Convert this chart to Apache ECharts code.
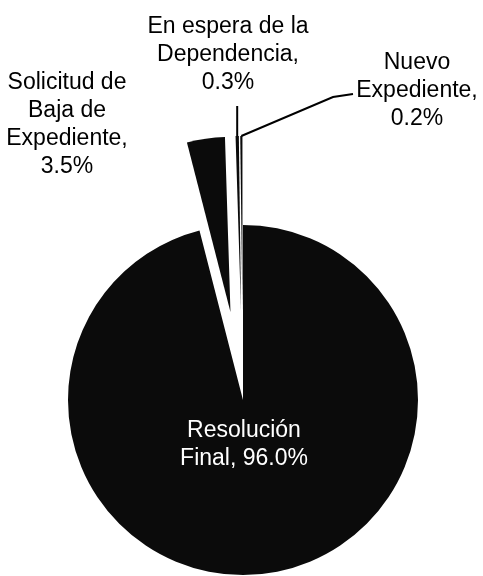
<!DOCTYPE html>
<html>
<head>
<meta charset="utf-8">
<script src="https://cdn.jsdelivr.net/npm/echarts@6/dist/echarts.min.js"></script>
<style>
  html, body { margin: 0; padding: 0; background: #fff; }
  #chart { width: 483px; height: 576px; }
</style>
</head>
<body>
<div id="chart"></div>
<script>
  // data (clockwise from 12 o'clock)
  const categories = ['Resolución Final', 'Solicitud de Baja de Expediente', 'En espera de la Dependencia', 'Nuevo Expediente']
  const shares = [96.0, 3.5, 0.3, 0.2]
  const labelNames = ['Resolución\nFinal,', 'Solicitud de\nBaja de\nExpediente,', 'En espera de la\nDependencia,', 'Nuevo\nExpediente,']
  const exploded = [false, true, true, true]

  const CENTER = [243, 400]
  const RADIUS = 175
  const OFFSET = 89
  // where each label block sits (centre of the text block)
  const labelSpots = [[244, 445], [67, 125], [228, 55], [417, 91]]

  // shift of an exploded slice, same rule ECharts uses (mid angle * offset)
  const total = shares.reduce((a, b) => a + b, 0)
  const shifts = []
  let acc = 0
  shares.forEach((v, i) => {
    const mid = -Math.PI / 2 + 2 * Math.PI * (acc + v / 2) / total
    acc += v
    shifts.push(exploded[i] ? [Math.cos(mid) * OFFSET, Math.sin(mid) * OFFSET] : [0, 0])
  })

  const textStyle = {
    fontFamily: 'Liberation Sans, Arial, sans-serif',
    fontSize: 23,
    lineHeight: 28
  }

  const fmt = p => {
    const pct = p.value.toFixed(1) + '%'
    return p.dataIndex === 0 ? labelNames[0] + ' ' + pct : labelNames[p.dataIndex] + '\n' + pct
  }

  const chart = echarts.init(document.getElementById('chart'))

  const option = {
    animation: false,
    backgroundColor: '#fff',
    series: [
      {
        // the visible pie
        type: 'pie',
        center: CENTER,
        radius: [0, RADIUS],
        startAngle: 90,
        clockwise: true,
        selectedMode: 'multiple',
        selectedOffset: OFFSET,
        avoidLabelOverlap: false,
        itemStyle: { color: '#0b0b0b', borderWidth: 0 },
        emphasis: { disabled: true },
        select: { itemStyle: { color: '#0b0b0b', borderWidth: 0 } },
        label: { show: false },
        labelLine: { show: false },
        labelLayout: params => {
          const [x, y] = labelSpots[params.dataIndex]
          return { x, y, align: 'center', verticalAlign: 'middle', hideOverlap: false }
        },
        data: categories.map((name, i) => ({
          name,
          value: shares[i],
          selected: exploded[i],
          label: i === 0 ? { show: true, position: 'inside', color: '#fff', formatter: fmt, ...textStyle } : {}
        }))
      },
      {
        // same data, transparent: carries the outer labels and their leader lines
        type: 'pie',
        silent: true,
        center: CENTER,
        radius: [0, RADIUS],
        startAngle: 90,
        clockwise: true,
        avoidLabelOverlap: false,
        itemStyle: { color: 'rgba(0,0,0,0)', borderWidth: 0 },
        emphasis: { disabled: true },
        label: { show: true, position: 'outside', color: '#000', align: 'center', formatter: fmt, ...textStyle },
        labelLine: { show: false, lineStyle: { color: '#000', width: 2 } },
        labelLayout: params => {
          const i = params.dataIndex
          const [x, y] = labelSpots[i]
          const out = { x, y, align: 'center', verticalAlign: 'middle', hideOverlap: false }
          const pts = params.labelLinePoints
          if (pts) {
            const start = [pts[0][0] + shifts[i][0], pts[0][1] + shifts[i][1]]
            if (i === 2) out.labelLinePoints = [start, [start[0], 106]]
            if (i === 3) out.labelLinePoints = [start, [333, 97], [353, 94]]
          }
          return out
        },
        data: categories.map((name, i) => ({
          name,
          value: shares[i],
          label: { show: i > 0 },
          labelLine: { show: i >= 2 }
        }))
      }
    ]
  }

  chart.setOption(option)
</script>
</body>
</html>
